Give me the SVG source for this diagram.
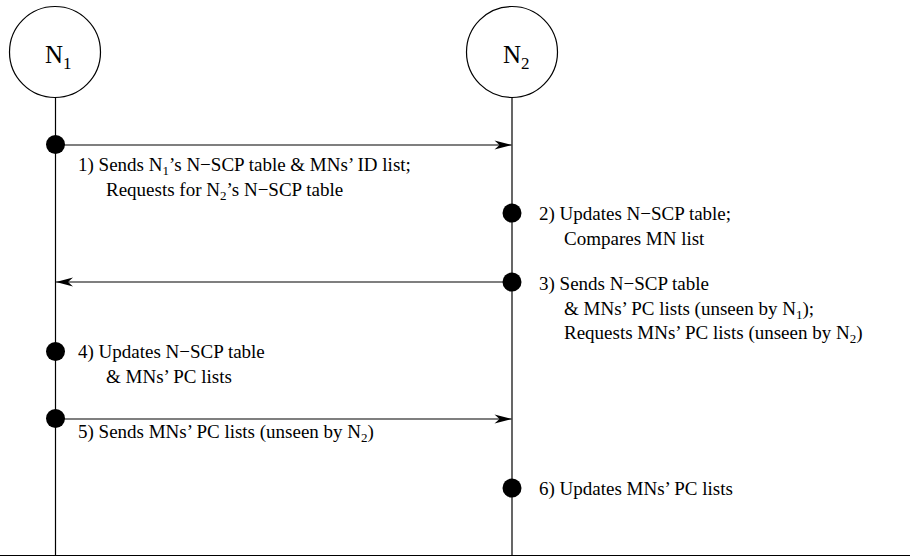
<svg xmlns="http://www.w3.org/2000/svg" width="910" height="557" viewBox="0 0 910 557">
  <style>
    .node { fill: #ffffff; stroke: #000000; stroke-width: 1.2; }
    .life { stroke: #000000; stroke-width: 1.2; fill: none; }
    .msg { stroke: #000000; stroke-width: 1.2; fill: none; marker-end: url(#arrow); }
    .dot { fill: #000000; }
    .lbl { font-family: "Liberation Serif", "Times New Roman", serif; font-size: 19px; fill: #000000; }
    .name { font-family: "Liberation Serif", "Times New Roman", serif; font-size: 25px; fill: #000000; }
  </style>
  <defs>
    <marker id="arrow" viewBox="-18 -5 18 10" refX="0" refY="0" markerWidth="18" markerHeight="10" markerUnits="userSpaceOnUse" orient="auto">
      <path d="M0,0 L-17,-4.5 L-12,0 L-17,4.5 Z" fill="#000000"/>
    </marker>
  </defs>

  <!-- participants -->
  <g id="node-n1">
    <circle class="node" cx="55" cy="52" r="45.5"/>
    <text class="name" x="45" y="63">N<tspan font-size="17" dy="6">1</tspan></text>
  </g>
  <g id="node-n2">
    <circle class="node" cx="512" cy="52" r="45.5"/>
    <text class="name" x="503" y="63">N<tspan font-size="17" dy="6">2</tspan></text>
  </g>

  <!-- lifelines, base line and messages -->
  <g id="connectors">
    <line class="life" x1="55.5" y1="97.5" x2="55.5" y2="555.5"/>
    <line class="life" x1="512" y1="97.5" x2="512" y2="555.5"/>
    <line class="life" x1="0" y1="555.5" x2="910" y2="555.5"/>
    <line class="msg" x1="56" y1="145" x2="511.5" y2="145"/>
    <line class="msg" x1="511.5" y1="282" x2="56" y2="282"/>
    <line class="msg" x1="56" y1="419" x2="511.5" y2="419"/>
  </g>

  <!-- step markers -->
  <g id="step-1">
    <circle class="dot" cx="55.5" cy="144.5" r="9.5"/>
    <text class="lbl" x="78" y="171">1) Sends N<tspan font-size="13" dy="4">1</tspan><tspan dy="-4">’s N−SCP table &amp; MNs’ ID list;</tspan></text>
    <text class="lbl" x="106" y="195.5">Requests for N<tspan font-size="13" dy="4">2</tspan><tspan dy="-4">’s N−SCP table</tspan></text>
  </g>
  <g id="step-2">
    <circle class="dot" cx="512" cy="213" r="9.5"/>
    <text class="lbl" x="539" y="220">2) Updates N−SCP table;</text>
    <text class="lbl" x="564" y="244.5">Compares MN list</text>
  </g>
  <g id="step-3">
    <circle class="dot" cx="512" cy="282" r="9.5"/>
    <text class="lbl" x="539" y="290">3) Sends N−SCP table</text>
    <text class="lbl" x="564" y="314.5">&amp; MNs’ PC lists (unseen by N<tspan font-size="13" dy="4">1</tspan><tspan dy="-4">);</tspan></text>
    <text class="lbl" x="564" y="339">Requests MNs’ PC lists (unseen by N<tspan font-size="13" dy="4">2</tspan><tspan dy="-4">)</tspan></text>
  </g>
  <g id="step-4">
    <circle class="dot" cx="55.5" cy="351.5" r="9.5"/>
    <text class="lbl" x="78" y="358">4) Updates N−SCP table</text>
    <text class="lbl" x="106" y="382.5">&amp; MNs’ PC lists</text>
  </g>
  <g id="step-5">
    <circle class="dot" cx="55.5" cy="418.5" r="9.5"/>
    <text class="lbl" x="78" y="438">5) Sends MNs’ PC lists (unseen by N<tspan font-size="13" dy="4">2</tspan><tspan dy="-4">)</tspan></text>
  </g>
  <g id="step-6">
    <circle class="dot" cx="512" cy="488" r="9.5"/>
    <text class="lbl" x="539" y="495">6) Updates MNs’ PC lists</text>
  </g>
</svg>
